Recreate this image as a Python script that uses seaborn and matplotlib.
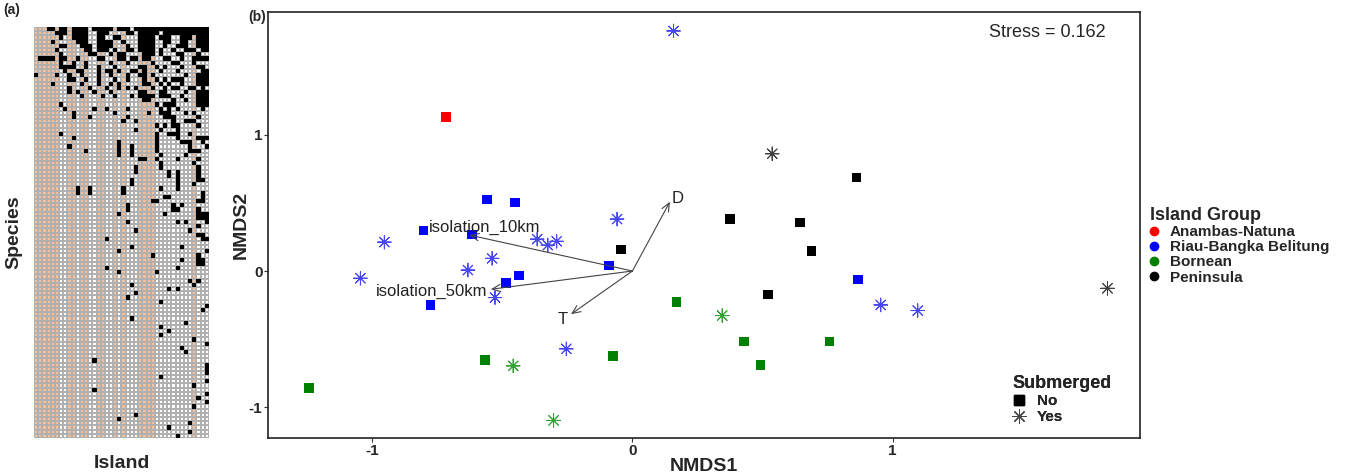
import matplotlib.pyplot as plt
from matplotlib.colors import ListedColormap
from matplotlib.lines import Line2D
import numpy as np
import pandas as pd
import seaborn as sns

# ---- panel (a): species x island incidence matrix ----
# column shading per island: "T" = tan, "W" = white
island_shade = "TTTTTTWWTTWTTWWTTWWTWTWWWTTTTWWWWWWWWWTWWW"

# column indices of the black (present) cells, one list per species row
presence_rows = [
    [3, 4, 6, 7, 9, 10, 11, 12, 14, 15, 16, 17, 18, 20, 21, 22, 24, 25, 26, 27, 28, 29, 30, 31, 32, 33, 34, 35, 36, 37, 38, 39, 40, 41],
    [5, 6, 7, 9, 10, 11, 12, 15, 16, 17, 22, 23, 25, 26, 27, 28, 29, 31, 32, 33, 34, 35, 36, 37, 38, 39, 40, 41],
    [6, 9, 10, 11, 12, 15, 16, 19, 20, 25, 26, 27, 28, 30, 31, 32, 35, 36, 37, 39, 40, 41],
    [4, 10, 11, 12, 15, 16, 17, 18, 21, 25, 26, 27, 28, 31, 32, 35, 36, 39, 40, 41],
    [6, 7, 11, 12, 13, 15, 16, 17, 18, 22, 25, 26, 27, 28, 31, 34, 35, 36, 39, 40, 41],
    [5, 12, 13, 15, 16, 17, 19, 22, 23, 25, 26, 27, 28, 30, 33, 36, 37, 38, 40, 41],
    [6, 13, 14, 18, 20, 21, 26, 27, 28, 30, 34, 35, 39],
    [1, 2, 3, 4, 6, 7, 10, 15, 16, 20, 21, 23, 24, 26, 27, 31, 32, 35, 38, 39, 40, 41],
    [6, 9, 12, 18, 22, 28, 33, 34, 38],
    [6, 7, 8, 9, 12, 15, 19, 25, 26, 29, 31, 35, 39, 40],
    [7, 10, 11, 15, 17, 18, 20, 23, 24, 26, 30, 34, 40, 41],
    [0, 5, 8, 11, 15, 18, 22, 25, 26, 28, 36, 39, 40, 41],
    [8, 9, 12, 15, 19, 22, 26, 29, 31, 33, 34, 35, 39, 40, 41],
    [4, 11, 15, 18, 20, 26, 27, 30, 32, 35, 39, 40, 41],
    [8, 13, 17, 20, 22, 24, 28, 31, 33, 34, 37, 38, 40],
    [8, 10, 14, 18, 25, 26, 30, 31, 36, 39, 40, 41],
    [11, 16, 19, 23, 25, 26, 27, 28, 30, 31, 32, 35, 39, 40, 41],
    [26, 27, 33, 36, 39, 40, 41],
    [6, 29, 31, 32, 33, 39, 40, 41],
    [7, 14, 17, 22, 30, 32, 34, 40],
    [9, 19, 27, 30, 31, 32, 36, 38],
    [9, 13, 22, 31, 32, 33, 39],
    [21, 24, 33, 36, 37, 38],
    [29, 31, 33, 34, 39],
    [24, 30, 34],
    [6, 29, 32, 33, 34, 37],
    [9, 29, 34, 39, 40, 41],
    [20, 29, 35, 36, 37, 40],
    [8, 20, 23, 29, 37, 41],
    [12, 20, 23, 29, 37, 38, 39],
    [20, 23, 30, 36],
    [25, 26, 29, 34, 39],
    [30, 38],
    [24, 30, 39],
    [24, 32, 34, 39],
    [32, 34, 39],
    [23, 34, 39, 40],
    [23, 34, 38],
    [10, 13, 21, 30, 34],
    [10, 13, 21, 40],
    [31, 32, 40],
    [28, 29, 39, 40],
    [22, 33, 35],
    [22, 33, 34, 39],
    [20, 31, 39, 40, 41],
    [39, 40, 41],
    [22, 34, 36, 41],
    [39],
    [24, 37],
    [39, 40],
    [17, 40, 41],
    [],
    [23, 35],
    [20, 41],
    [28, 39],
    [35, 39, 40],
    [39, 40],
    [17, 34],
    [20, 29],
    [],
    [37, 39],
    [23, 38],
    [32, 34],
    [24],
    [22],
    [30],
    [41],
    [40],
    [],
    [23],
    [36],
    [30],
    [32],
    [30],
    [38],
    [41],
    [35],
    [36],
    [],
    [14],
    [41],
    [41],
    [41],
    [30],
    [41],
    [38],
    [14],
    [41],
    [39],
    [41],
    [38],
    [],
    [24],
    [20],
    [37],
    [32],
    [37],
    [34],
]

# ---- panel (b): NMDS site scores ----
site_group = [
    "Riau-Bangka Belitung", "Anambas-Natuna", "Peninsula", "Peninsula",
    "Riau-Bangka Belitung", "Riau-Bangka Belitung", "Riau-Bangka Belitung", "Peninsula",
    "Peninsula", "Riau-Bangka Belitung", "Riau-Bangka Belitung", "Riau-Bangka Belitung",
    "Riau-Bangka Belitung", "Riau-Bangka Belitung", "Riau-Bangka Belitung", "Peninsula",
    "Peninsula", "Riau-Bangka Belitung", "Riau-Bangka Belitung", "Riau-Bangka Belitung",
    "Riau-Bangka Belitung", "Riau-Bangka Belitung", "Riau-Bangka Belitung", "Riau-Bangka Belitung",
    "Peninsula", "Peninsula", "Riau-Bangka Belitung", "Bornean",
    "Riau-Bangka Belitung", "Riau-Bangka Belitung", "Riau-Bangka Belitung", "Bornean",
    "Bornean", "Bornean", "Riau-Bangka Belitung", "Bornean",
    "Bornean", "Bornean", "Bornean", "Bornean", "Bornean",
]
site_submerged = [
    "Yes", "No", "Yes", "No",
    "No", "No", "Yes", "No",
    "No", "No", "No", "Yes",
    "Yes", "Yes", "Yes", "No",
    "No", "Yes", "Yes", "No",
    "No", "Yes", "No", "No",
    "Yes", "No", "Yes", "No",
    "No", "Yes", "Yes", "Yes",
    "No", "No", "Yes", "No",
    "No", "Yes", "No", "No", "Yes",
]
nmds1 = [
    0.158, -0.717, 0.537, 0.861,
    -0.559, -0.450, -0.059, 0.376,
    0.643, -0.803, -0.617, -0.953,
    -0.366, -0.325, -0.291, -0.045,
    0.688, -0.539, -0.632, -0.089,
    0.867, -1.045, -0.436, -0.485,
    1.825, 0.520, -0.528, 0.169,
    -0.775, 0.954, 1.096, 0.345,
    0.429, 0.757, -0.254, -0.074,
    -0.566, -0.458, 0.492, -1.242, -0.303,
]
nmds2 = [
    1.761, 1.128, 0.860, 0.686,
    0.525, 0.503, 0.381, 0.381,
    0.357, 0.296, 0.267, 0.212,
    0.234, 0.190, 0.218, 0.157,
    0.149, 0.093, 0.007, 0.040,
    -0.061, -0.053, -0.034, -0.090,
    -0.127, -0.171, -0.195, -0.227,
    -0.251, -0.249, -0.290, -0.327,
    -0.517, -0.517, -0.571, -0.623,
    -0.652, -0.696, -0.689, -0.859, -1.096,
]

# fitted environmental vectors
vector_names = ["isolation_10km", "isolation_50km", "D", "T"]
vector_x = [-0.627, -0.544, 0.144, -0.236]
vector_y = [0.264, -0.134, 0.508, -0.317]
vector_label_x = [-0.567, -0.771, 0.175, -0.267]
vector_label_y = [0.320, -0.149, 0.533, -0.354]

stress = 0.162

group_order = ["Anambas-Natuna", "Riau-Bangka Belitung", "Bornean", "Peninsula"]
square_colors = {"Anambas-Natuna": "#ff0000", "Riau-Bangka Belitung": "#0000ff",
                 "Bornean": "#008000", "Peninsula": "#000000"}
star_colors = {"Anambas-Natuna": "#ff4444", "Riau-Bangka Belitung": "#4646f5",
               "Bornean": "#33a033", "Peninsula": "#404040"}

sns.set_theme(style="white")
plt.rcParams["font.family"] = ["Liberation Sans", "DejaVu Sans"]

fig = plt.figure(figsize=(13.47, 4.74), dpi=100)

# ---------- panel (a) ----------
n_rows = len(presence_rows)
shade = np.array([[0 if s == "T" else 1 for s in island_shade] for _ in range(n_rows)])
present = np.zeros_like(shade)
for r, cols in enumerate(presence_rows):
    present[r, cols] = 1

ax_a = fig.add_axes([34 / 1347, 36 / 474, 175 / 1347, 411 / 474])
sns.heatmap(shade, ax=ax_a, cmap=ListedColormap(["#f7bf96", "#ffffff"]), vmin=0, vmax=1,
            cbar=False, linewidths=0.15, linecolor="#b0b0b0",
            xticklabels=False, yticklabels=False)
sns.heatmap(present, ax=ax_a, mask=present == 0, cmap=ListedColormap(["#000000"]),
            cbar=False, linewidths=0, xticklabels=False, yticklabels=False)
ax_a.set_xlabel("")
ax_a.set_ylabel("")

fig.text(3 / 1347, 1 - 10 / 474, "(a)", fontsize=10, fontweight="bold", va="center")
fig.text(14 / 1347, 1 - 232 / 474, "Species", fontsize=14, fontweight="bold",
         rotation=90, ha="center", va="center")
fig.text(122 / 1347, 1 - 463 / 474, "Island", fontsize=14, fontweight="bold",
         ha="center", va="center")

# ---------- panel (b) ----------
df = pd.DataFrame({"group": site_group, "submerged": site_submerged,
                   "NMDS1": nmds1, "NMDS2": nmds2})

ax = fig.add_axes([268 / 1347, 36 / 474, (1140 - 268) / 1347, (438 - 12) / 474])

sns.scatterplot(data=df[df["submerged"] == "No"], x="NMDS1", y="NMDS2", hue="group",
                hue_order=group_order, palette=square_colors, marker="s", s=48,
                linewidth=0, legend=False, ax=ax, zorder=3)
sns.scatterplot(data=df[df["submerged"] == "Yes"], x="NMDS1", y="NMDS2", hue="group",
                hue_order=group_order, palette=star_colors, marker=(8, 2, 0), s=95,
                linewidth=0.7, legend=False, ax=ax, zorder=3)

for name, vx, vy, lx, ly in zip(vector_names, vector_x, vector_y, vector_label_x, vector_label_y):
    ax.annotate("", xy=(vx, vy), xytext=(0, 0),
                arrowprops=dict(arrowstyle="->,head_length=0.5,head_width=0.22",
                                color="#444444", lw=0.8, shrinkA=0, shrinkB=0), zorder=4)
    ax.text(lx, ly, name, fontsize=12, ha="center", va="center", color="#222222", zorder=5)

ax.text(0.894, 0.953, f"Stress = {stress}", transform=ax.transAxes, fontsize=13,
        ha="center", va="center")

ax.set_xlim(-1.40, 1.95)
ax.set_ylim(-1.225, 1.9)
ax.set_xticks([-1, 0, 1])
ax.set_yticks([-1, 0, 1])
ax.set_xticklabels(["-1", "0", "1"], fontweight="bold", fontsize=11)
ax.set_yticklabels(["-1", "0", "1"], fontweight="bold", fontsize=11)
ax.tick_params(axis="both", which="both", bottom=True, left=True, length=3,
               width=0.8, color="#333333", pad=1)
ax.set_xlabel("NMDS1", fontsize=14, fontweight="bold", labelpad=0)
ax.set_ylabel("NMDS2", fontsize=14, fontweight="bold", labelpad=-1)
for sp in ax.spines.values():
    sp.set_color("#222222")
    sp.set_linewidth(1.2)

# Submerged legend (inside the panel)
sub_handles = [
    Line2D([], [], marker="s", linestyle="", color="black", markersize=7),
    Line2D([], [], marker=(8, 2, 0), linestyle="", color="#444444", markersize=10,
           markeredgewidth=0.7),
]
leg_sub = ax.legend(sub_handles, ["No", "Yes"], title="Submerged", loc="lower left",
                    bbox_to_anchor=(0.838, 0.0), frameon=False, handlelength=0.8,
                    handletextpad=0.8, labelspacing=0.15, alignment="left",
                    prop={"weight": "bold", "size": 11},
                    title_fontproperties={"weight": "bold", "size": 13})
ax.add_artist(leg_sub)

# Island Group legend (outside, right)
grp_handles = [Line2D([], [], marker="o", linestyle="", color=square_colors[g], markersize=6)
               for g in group_order]
fig.legend(grp_handles, group_order, title="Island Group", loc="upper left",
           bbox_to_anchor=(1136 / 1347, 1 - 193 / 474), frameon=False, handlelength=0.6,
           handletextpad=0.7, labelspacing=0.08, alignment="left",
           prop={"weight": "bold", "size": 11},
           title_fontproperties={"weight": "bold", "size": 13})

fig.text(248 / 1347, 1 - 17 / 474, "(b)", fontsize=10, fontweight="bold", va="center")

fig.savefig("out.png", dpi=100)
